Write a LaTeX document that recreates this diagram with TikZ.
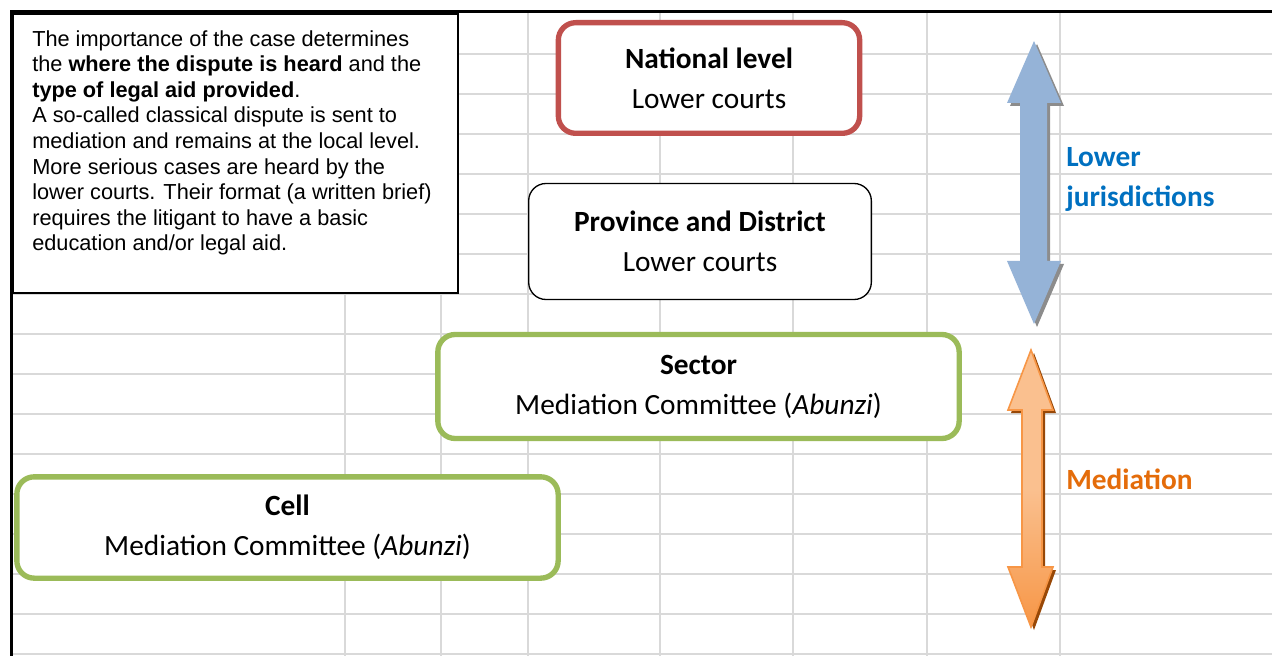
\documentclass[tikz,border=0pt]{standalone}
\usepackage{fontspec}
\setmainfont{Carlito}
\newfontfamily\arialfont{Liberation Sans}

\definecolor{gridgray}{HTML}{D9D9D9}
\definecolor{natred}{HTML}{C0504D}
\definecolor{medgreen}{HTML}{9BBB59}
\definecolor{arrowblue}{HTML}{95B3D7}
\definecolor{shadowgray}{HTML}{8C8C8C}
\definecolor{labelblue}{HTML}{0070C0}
\definecolor{lightorange}{HTML}{FAC08F}
\definecolor{midorange}{HTML}{F79646}
\definecolor{labelorange}{HTML}{E46C0A}
\definecolor{shadowbrown}{HTML}{984807}

\begin{document}
\begin{tikzpicture}[x=0.75pt, y=-0.75pt,
  levelbox/.style={rounded corners=13pt, fill=white, align=center, inner sep=0pt,
    font=\fontsize{22}{30}\selectfont},
  courtbox/.style={levelbox, draw=natred, line width=4pt},
  plainbox/.style={levelbox, draw=black, line width=1pt},
  mediationbox/.style={levelbox, draw=medgreen, line width=4pt},
  sidelabel/.style={anchor=west, inner sep=0pt, font=\fontsize{22}{30}\selectfont\bfseries}]
\useasboundingbox (0,0) rectangle (1272,656);

% feuille de calcul en fond
\foreach \gy in {54,94,...,654}
  \draw[gridgray, line width=1.2pt] (11,\gy) -- (1272,\gy);
\foreach \gx in {345,441,528,660,793,927,1060}
  \draw[gridgray, line width=1.2pt] (\gx,12) -- (\gx,656);
\draw[line width=2.25pt] (11,656) -- (11,12) -- (1272,12);

% encadre explicatif
\draw[fill=white, line width=1pt] (13,14) rectangle (458,293);
\node[anchor=north west, inner sep=0pt, align=left,
  font=\arialfont\fontsize{16.3}{19.2}\selectfont] (note) at (32,30)
  {The importance of the case determines\\
   the \textbf{where the dispute is heard} and the\\
   \textbf{type of legal aid provided}.\\
   A so-called classical dispute is sent to\\
   mediation and remains at the local level.\\
   More serious cases are heard by the\\
   lower courts. Their format (a written brief)\\
   requires the litigant to have a basic\\
   education and/or legal aid.};

% les niveaux
\node[courtbox, minimum width=226pt, minimum height=83pt] (national) at (709,78)
  {\textbf{National level}\\Lower courts};
\node[plainbox, minimum width=257pt, minimum height=87pt] (province) at (700,241.5)
  {\textbf{Province and District}\\Lower courts};
\node[mediationbox, minimum width=391pt, minimum height=78pt] (sector) at (698.5,386.5)
  {\textbf{Sector}\\Mediation Committee (\textit{Abunzi})};
\node[mediationbox, minimum width=406pt, minimum height=76pt] (cell) at (287.5,527.5)
  {\textbf{Cell}\\Mediation Committee (\textit{Abunzi})};

% fleche bleue
\fill[shadowgray, shift={(3,3)}] (1034,41) -- (1061,103) -- (1047,103) -- (1047,261) -- (1061,261)
  -- (1034,324) -- (1007,261) -- (1020,261) -- (1020,103) -- (1007,103) -- cycle;
\fill[arrowblue] (1034,41) -- (1061,103) -- (1047,103) -- (1047,261) -- (1061,261)
  -- (1034,324) -- (1007,261) -- (1020,261) -- (1020,103) -- (1007,103) -- cycle;

% fleche orange
\fill[shadowbrown, shift={(3,3)}] (1031,350) -- (1053,410) -- (1042,410) -- (1042,567) -- (1053,567)
  -- (1031,627) -- (1008,567) -- (1022,567) -- (1022,410) -- (1008,410) -- cycle;
\shadedraw[top color=lightorange, bottom color=midorange, middle color=lightorange,
  draw=midorange, line width=1.2pt] (1031,350) -- (1053,410) -- (1042,410) -- (1042,567) -- (1053,567)
  -- (1031,627) -- (1008,567) -- (1022,567) -- (1022,410) -- (1008,410) -- cycle;

% etiquettes
\node[sidelabel, text=labelblue, align=left] (lower) at (1066,179) {Lower\\jurisdictions};
\node[sidelabel, text=labelorange] (mediation) at (1066,479) {Mediation};
\end{tikzpicture}
\end{document}
